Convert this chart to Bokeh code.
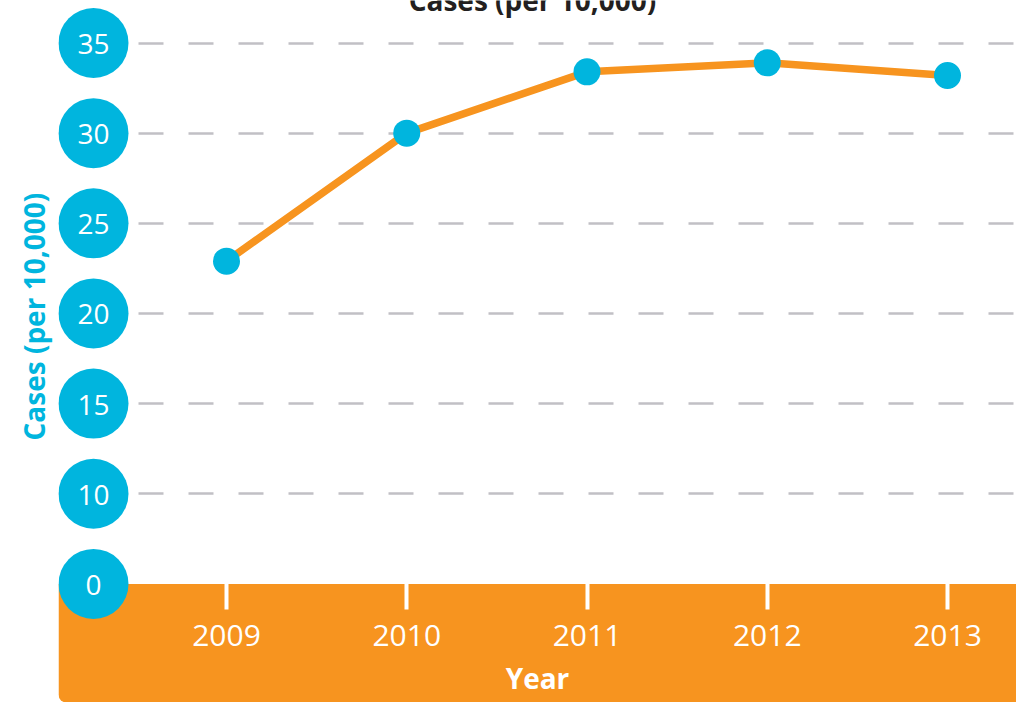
from bokeh.plotting import figure
from bokeh.models import Range1d, FixedTicker, BoxAnnotation, Label, ColumnDataSource, Title
from bokeh.core.properties import value
from bokeh.embed import file_html
from bokeh.resources import INLINE

# ---- data ----
years = [2009, 2010, 2011, 2012, 2013]
cases = [22.9, 30.0, 33.4, 33.9, 33.2]
y_ticks = [5, 10, 15, 20, 25, 30, 35]
y_tick_labels = ["0", "10", "15", "20", "25", "30", "35"]
x_tick_labels = ["2009", "2010", "2011", "2012", "2013"]
title_text = "Cases (per 10,000)"
y_title = "Cases (per 10,000)"
x_title = "Year"

BLUE = "#00B5DE"
ORANGE = "#F7941F"
GRID = "#C1C0C5"
FONT = "Open Sans"

W, H = 1016, 702
LEFT = 58
px_per_year = 180.25
px_per_unit = 18.03
x0 = 2009 - (226 - LEFT) / px_per_year
x1 = x0 + (W - LEFT) / px_per_year
y_top = 35 + 42.5 / px_per_unit
y_bot = y_top - H / px_per_unit

p = figure(width=W, height=H, output_backend="svg", toolbar_location=None,
           x_range=Range1d(x0, x1), y_range=Range1d(y_bot, y_top),
           min_border_left=LEFT, min_border_right=0, min_border_top=0, min_border_bottom=0)
p.outline_line_color = None
p.background_fill_color = "white"
p.border_fill_color = "white"

# orange band below baseline
band = BoxAnnotation(top=y_ticks[0], fill_color=ORANGE, fill_alpha=1.0, line_color=None,
                     level="underlay", border_radius=(0, 0, 0, 8))
p.add_layout(band)

# grid
p.xgrid.visible = False
p.ygrid.ticker = FixedTicker(ticks=y_ticks[1:])
p.ygrid.grid_line_color = GRID
p.ygrid.grid_line_width = 2.5
p.ygrid.grid_line_dash = "25 25"
p.ygrid.grid_line_dash_offset = 20

# y axis hidden; circled labels drawn as glyphs
p.yaxis.visible = False
cx = 2009 - 133 / px_per_year
src_y = ColumnDataSource(dict(x=[cx] * len(y_ticks), y=y_ticks, t=y_tick_labels))
p.scatter("x", "y", source=src_y, size=70, color=BLUE, line_color=None)
p.text("x", "y", text="t", source=src_y, text_color="white", text_font=value(FONT),
       text_font_size="28px", text_align="center", text_baseline="middle", y_offset=1)

# x axis at the baseline
xa = p.xaxis[0]
xa.fixed_location = y_ticks[0]
xa.ticker = FixedTicker(ticks=years)
xa.major_label_overrides = {y: s for y, s in zip(years, x_tick_labels)}
xa.axis_line_color = None
xa.minor_tick_line_color = None
xa.major_tick_in = 0
xa.major_tick_out = 26
xa.major_tick_line_color = "white"
xa.major_tick_line_width = 4
xa.major_label_text_color = "white"
xa.major_label_text_font = FONT
xa.major_label_text_font_size = "30px"
xa.major_label_standoff = 15
xa.axis_label = x_title
xa.axis_label_text_color = "white"
xa.axis_label_text_font = FONT
xa.axis_label_text_font_style = "bold"
xa.axis_label_text_font_size = "28px"
xa.axis_label_standoff = 10

# data
p.line(years, cases, line_width=7.5, color=ORANGE)
p.scatter(years, cases, size=27, color=BLUE, line_color=None)

# y title (left side)
p.add_layout(Title(text=y_title, align="left", offset=262, standoff=12,
                   text_color=BLUE, text_font=FONT, text_font_style="bold",
                   text_font_size="28px"), "left")
# chart title (cut at the top edge, as in the reference)
p.add_layout(Label(x=2009 + (532 - 226) / px_per_year, y=y_top + 1 / px_per_unit, text=title_text,
                   text_align="center", text_baseline="alphabetic", text_color="#231F20",
                   text_font=FONT, text_font_style="bold", text_font_size="28px"))

open("out.html", "w").write(file_html(p, INLINE))
